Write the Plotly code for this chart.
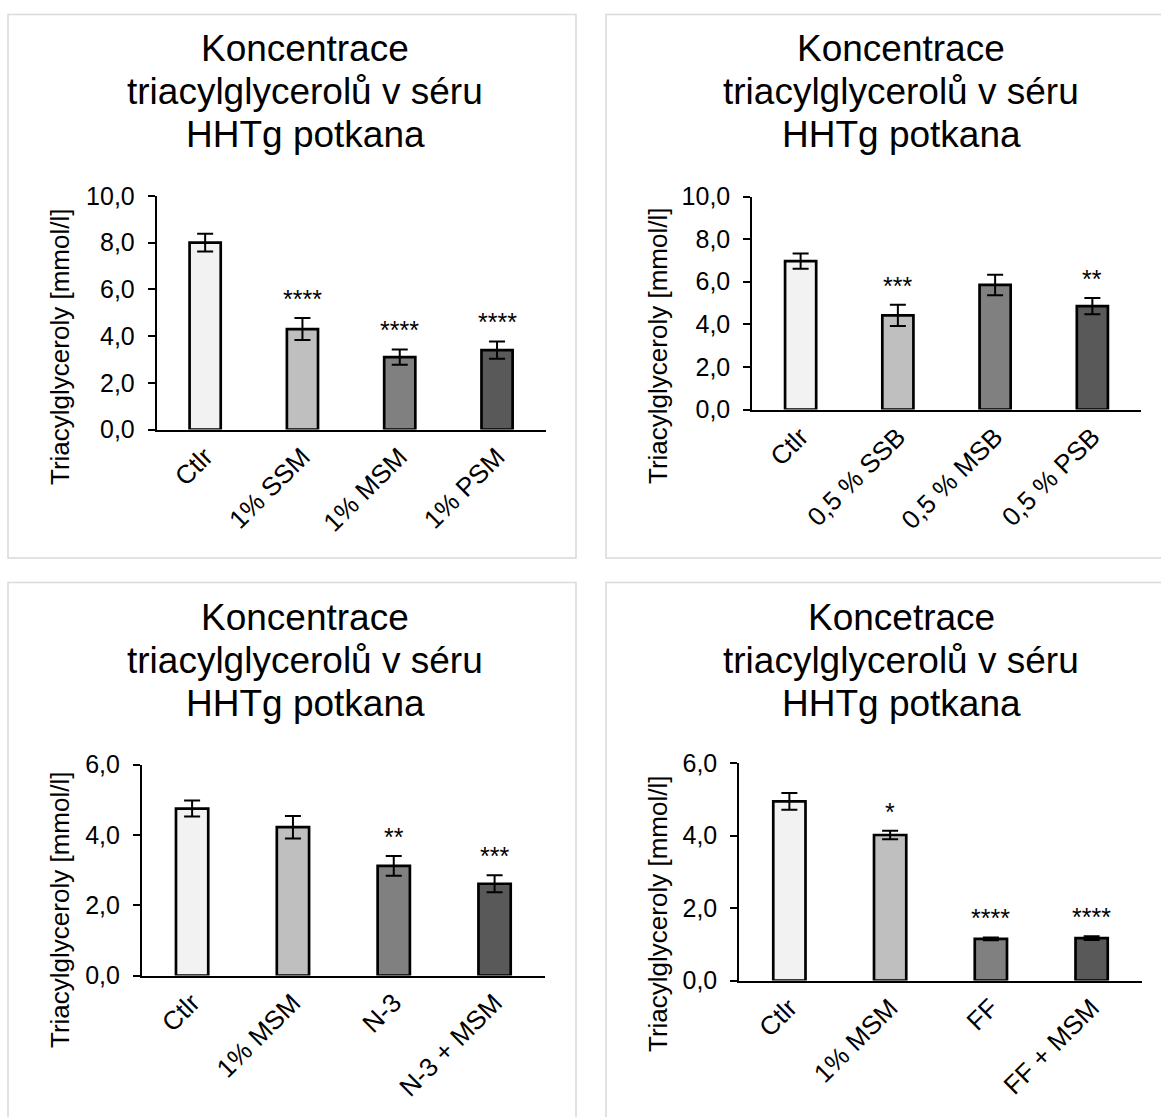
import plotly.graph_objects as go

# ---------------- data ----------------
cats1 = ["Ctlr", "1% SSM", "1% MSM", "1% PSM"]
vals1 = [8.0, 4.3, 3.1, 3.4]
err1 = [0.38, 0.47, 0.33, 0.37]
stars1 = ["", "****", "****", "****"]
title1 = ["Koncentrace", "triacylglycerolů v séru", "HHTg potkana"]

cats2 = ["Ctlr", "0,5 % SSB", "0,5 % MSB", "0,5 % PSB"]
vals2 = [6.97, 4.42, 5.85, 4.86]
err2 = [0.36, 0.50, 0.48, 0.38]
stars2 = ["", "***", "", "**"]
title2 = ["Koncentrace", "triacylglycerolů v séru", "HHTg potkana"]

cats3 = ["Ctlr", "1% MSM", "N-3", "N-3 + MSM"]
vals3 = [4.75, 4.22, 3.12, 2.61]
err3 = [0.23, 0.32, 0.28, 0.24]
stars3 = ["", "", "**", "***"]
title3 = ["Koncentrace", "triacylglycerolů v séru", "HHTg potkana"]

cats4 = ["Ctlr", "1% MSM", "FF", "FF + MSM"]
vals4 = [4.95, 4.02, 1.15, 1.17]
err4 = [0.23, 0.12, 0.04, 0.05]
stars4 = ["", "*", "****", "****"]
title4 = ["Koncetrace", "triacylglycerolů v séru", "HHTg potkana"]

ytitle = "Triacylglyceroly [mmol/l]"
ticks_10 = [0, 2, 4, 6, 8, 10]
ticks_6 = [0, 2, 4, 6]
ticklabels_10 = ["0,0", "2,0", "4,0", "6,0", "8,0", "10,0"]
ticklabels_6 = ["0,0", "2,0", "4,0", "6,0"]

# ---------------- style / layout ----------------
W, H = 1161, 1117
FONT = "Arial, Liberation Sans, sans-serif"
bar_colors = ["#f2f2f2", "#bfbfbf", "#808080", "#595959"]
TITLE_LINE_GAP = 43

panels = [
    dict(cats=cats1, vals=vals1, err=err1, stars=stars1, title=title1,
         xdom=(156.5, 545.7), ydom=(429.5, 196.0), ymax=10,
         tv=ticks_10, tt=ticklabels_10,
         border=(8, 14.5, 576, 558), tpos=(305, 48.5), ypos=(60, 347)),
    dict(cats=cats2, vals=vals2, err=err2, stars=stars2, title=title2,
         xdom=(752.0, 1141.0), ydom=(409.6, 196.5), ymax=10,
         tv=ticks_10, tt=ticklabels_10,
         border=(606, 14.5, 1175, 558), tpos=(901, 48.5), ypos=(658, 346)),
    dict(cats=cats3, vals=vals3, err=err3, stars=stars3, title=title3,
         xdom=(141.7, 545.0), ydom=(975.5, 764.6), ymax=6,
         tv=ticks_6, tt=ticklabels_6,
         border=(8, 582.5, 576, 1130), tpos=(305, 617.5), ypos=(60, 910)),
    dict(cats=cats4, vals=vals4, err=err4, stars=stars4, title=title4,
         xdom=(739.0, 1142.0), ydom=(980.5, 763.3), ymax=6,
         tv=ticks_6, tt=ticklabels_6,
         border=(606, 582.5, 1175, 1130), tpos=(901, 617.5), ypos=(658, 914)),
]

fig = go.Figure()
shapes = []
annotations = []
layout_axes = {}

for i, p in enumerate(panels, start=1):
    xa = "x" if i == 1 else f"x{i}"
    ya = "y" if i == 1 else f"y{i}"
    fig.add_trace(go.Bar(
        x=p["cats"], y=p["vals"], xaxis=xa, yaxis=ya,
        marker=dict(color=bar_colors, line=dict(color="black", width=2.7)),
        width=0.32,
        error_y=dict(type="data", array=p["err"], visible=True,
                     color="black", thickness=2, width=8),
        showlegend=False, hoverinfo="skip",
    ))
    # significance stars
    for c, v, e, s in zip(p["cats"], p["vals"], p["err"], p["stars"]):
        if s:
            annotations.append(dict(
                x=c, y=v + e, xref=xa, yref=ya, text=s, showarrow=False,
                yanchor="bottom", yshift=3,
                font=dict(family=FONT, size=25, color="black")))
    x0, x1 = p["xdom"]
    yb, yt = p["ydom"]
    layout_axes["xaxis" if i == 1 else f"xaxis{i}"] = dict(
        domain=[x0 / W, x1 / W], anchor=ya, type="category",
        range=[-0.5, 3.5], showline=True, linecolor="black", linewidth=1.5,
        ticks="", tickangle=-45, showgrid=False, zeroline=False,
        automargin=False,
        tickfont=dict(family=FONT, size=26, color="black"),
    )
    layout_axes["yaxis" if i == 1 else f"yaxis{i}"] = dict(
        domain=[1 - yb / H, 1 - yt / H], anchor=xa,
        range=[0, p["ymax"]], showline=True, linecolor="black", linewidth=1.5,
        ticks="outside", ticklen=7, tickwidth=1.5, tickcolor="black",
        tickvals=p["tv"], ticktext=p["tt"], ticklabelstandoff=8,
        showgrid=False, zeroline=False, automargin=False,
        tickfont=dict(family=FONT, size=25, color="black"),
    )
    bx0, by0, bx1, by1 = p["border"]
    shapes.append(dict(type="rect", xref="paper", yref="paper",
                       x0=bx0 / W, x1=bx1 / W, y0=1 - by1 / H, y1=1 - by0 / H,
                       line=dict(color="#d9d9d9", width=1.5), layer="below"))
    tx, ty = p["tpos"]
    for k, line in enumerate(p["title"]):
        annotations.append(dict(x=tx / W, y=1 - (ty + k * TITLE_LINE_GAP) / H,
                                xref="paper", yref="paper",
                                text=line, showarrow=False,
                                xanchor="center", yanchor="middle",
                                font=dict(family=FONT, size=37, color="black")))
    yx, yy = p["ypos"]
    annotations.append(dict(x=yx / W, y=1 - yy / H, xref="paper", yref="paper",
                            text=ytitle, showarrow=False, textangle=-90,
                            xanchor="center", yanchor="middle",
                            font=dict(family=FONT, size=26, color="black")))

fig.update_layout(
    width=W, height=H,
    margin=dict(l=0, r=0, t=0, b=0, pad=0, autoexpand=False),
    paper_bgcolor="white", plot_bgcolor="white",
    shapes=shapes, annotations=annotations, bargap=0.68,
    **layout_axes,
)

fig.write_html("out.html")
